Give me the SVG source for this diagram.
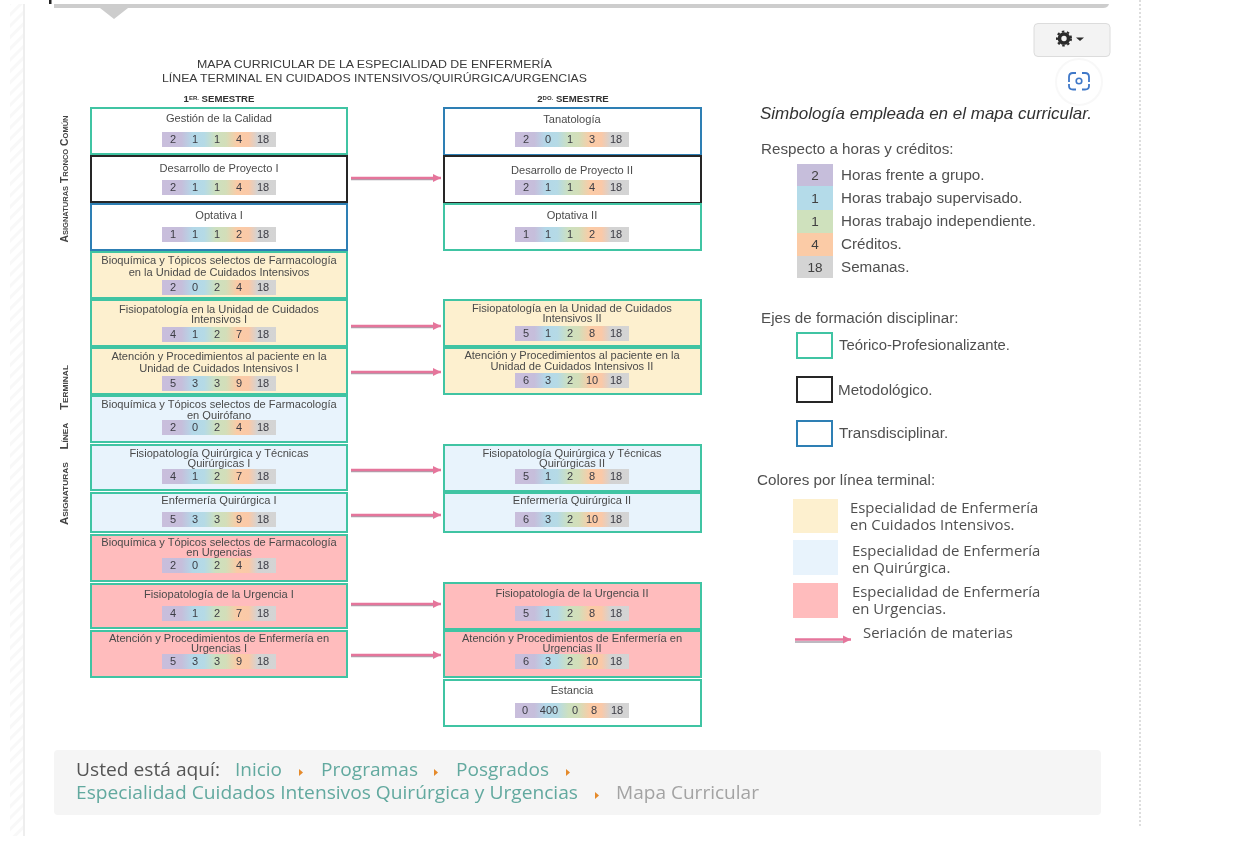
<svg xmlns="http://www.w3.org/2000/svg" width="1236" height="844" viewBox="0 0 1236 844">
<style>
text{font-family:"Liberation Sans",Arial,sans-serif;fill:#4a4a4a}
.t{font-size:11.1px;text-anchor:middle}
.n{font-size:11px;text-anchor:middle;fill:#3c3c44}
.box{stroke-width:2;fill:#fff}
.te{stroke:#3fc4a3}.me{stroke:#262626}.tr{stroke:#2f7fb4}
.ci{fill:#fdf0cf}.qu{fill:#e8f3fc}.ur{fill:#ffbcbd}
.lg{font-size:15.200px;fill:#505050}
.ln{font-size:13.500px;fill:#404040;text-anchor:middle}
.lc{font-size:14.900px;font-family:"Open Sans",sans-serif;fill:#505050}
.bc{font-size:18px;font-family:"Open Sans",sans-serif;fill:#62a99f}
.sm{font-size:9.600px;font-weight:bold;fill:#333;text-anchor:middle}
.v{font-size:11px;font-weight:bold;font-variant:small-caps;fill:#444;text-anchor:middle}
.cr{fill:#e58a2c}
.a1{stroke:#a9a3ad;stroke-width:1.4;fill:none}
.a2{stroke:#e5749b;stroke-width:2.4;fill:none}
</style>
<defs>
<linearGradient id="strip"><stop offset="0" stop-color="#c9bedc"/><stop offset=".17" stop-color="#c6bedb"/><stop offset=".27" stop-color="#b3d8e8"/><stop offset=".37" stop-color="#b5dae6"/><stop offset=".47" stop-color="#cde0bf"/><stop offset=".56" stop-color="#d3deb9"/><stop offset=".66" stop-color="#fbcba6"/><stop offset=".76" stop-color="#fac9a8"/><stop offset=".84" stop-color="#d3d3d3"/><stop offset="1" stop-color="#d4d4d4"/></linearGradient>
<marker id="ah" markerUnits="userSpaceOnUse" markerWidth="9" markerHeight="9" refX="8" refY="4.5" orient="auto"><path d="M0 .5L8 4.5L0 8.500z" fill="#e5749b"/></marker>
<pattern id="hatch" width="8" height="8" patternUnits="userSpaceOnUse" patternTransform="rotate(-45)"><rect width="8" height="8" fill="#fff"/><rect width="8" height="3" fill="#f8f8f8"/></pattern>
<filter id="soft" x="-2%" y="-2%" width="104%" height="104%"><feGaussianBlur stdDeviation="0.3"/></filter>
</defs>
<rect width="1236" height="844" fill="#fff"/>
<g id="chrome">
<rect x="10" y="4" width="13" height="832" fill="url(#hatch)"/>
<rect x="23" y="4" width="2" height="832" fill="#eeeeee"/>
<rect x="49" y="0" width="2.500" height="4" fill="#222"/>
<path d="M54 4H1109Q1108 8 1103 8H128L114 19L100 8H54z" fill="#cdcdcd"/>
<line x1="1140" y1="0" x2="1140" y2="826" stroke="#bbb" stroke-width="1" stroke-dasharray="2 2"/>
<rect x="1034" y="23.500" width="76" height="33" rx="4" fill="#f3f3f3" stroke="#dcdcdc"/>
<circle cx="1064" cy="38.500" r="4.500" fill="none" stroke="#2b2b2b" stroke-width="3.600"/>
<circle cx="1064" cy="38.500" r="7" fill="none" stroke="#2b2b2b" stroke-width="2" stroke-dasharray="2.500 2.600"/>
<path d="M1076 37.500h8l-4 3.500z" fill="#2b2b2b"/>
<circle cx="1079" cy="82" r="23" fill="#fff" stroke="#f8f8f8" stroke-width="2"/>
<path d="M1069 82v-5q0-4 4-4h3M1082 73h3q4 0 4 4v5M1089 84v2q0 3.500-4 3.500h-3M1076 89.500h-3q-4 0-4-3.500v-2" fill="none" stroke="#3f78c8" stroke-width="1.800"/>
<circle cx="1079" cy="81" r="2.800" fill="none" stroke="#3f78c8" stroke-width="1.600"/>
</g>
<g filter="url(#soft)">
<g id="titles">
<text x="374.500" y="68" font-size="11.200" text-anchor="middle" textLength="355" lengthAdjust="spacingAndGlyphs" style="fill:#3a3a3a">MAPA CURRICULAR DE LA ESPECIALIDAD DE ENFERMERÍA</text>
<text x="374.500" y="82" font-size="11.200" text-anchor="middle" textLength="425" lengthAdjust="spacingAndGlyphs" style="fill:#3a3a3a">LÍNEA TERMINAL EN CUIDADOS INTENSIVOS/QUIRÚRGICA/URGENCIAS</text>
<text class="sm" x="219" y="102">1<tspan font-size="6" dy="-2">ER.</tspan><tspan dy="2"> SEMESTRE</tspan></text>
<text class="sm" x="573" y="102">2<tspan font-size="6" dy="-2">DO.</tspan><tspan dy="2"> SEMESTRE</tspan></text>
<text class="v" transform="translate(68 179) rotate(-90)" textLength="127" lengthAdjust="spacingAndGlyphs">Asignaturas Tronco Común</text>
<text class="v" transform="translate(68 445) rotate(-90)" word-spacing="9" textLength="160" lengthAdjust="spacingAndGlyphs">Asignaturas Línea Terminal</text>
</g>
<g id="connectors">
<path class="a1" d="M351 179.500H434M351 327.500H434M351 373.500H434M351 471.500H434M351 516.500H434M351 605.500H434M351 656.500H434M795 642H843"/>
<path class="a2" marker-end="url(#ah)" d="M351 178H441"/>
<path class="a2" marker-end="url(#ah)" d="M351 326H441"/>
<path class="a2" marker-end="url(#ah)" d="M351 372H441"/>
<path class="a2" marker-end="url(#ah)" d="M351 470H441"/>
<path class="a2" marker-end="url(#ah)" d="M351 515H441"/>
<path class="a2" marker-end="url(#ah)" d="M351 604H441"/>
<path class="a2" marker-end="url(#ah)" d="M351 655H441"/>
<path class="a2" marker-end="url(#ah)" d="M795 639.500H851"/>
</g>
<g id="n-gestion"><rect class="box te" x="91" y="108" width="256" height="46"/><text class="t" x="219" y="122">Gestión de la Calidad</text><rect x="162" y="132" width="114" height="15" fill="url(#strip)"/><text class="n" x="173" y="143">2</text><text class="n" x="195" y="143">1</text><text class="n" x="217" y="143">1</text><text class="n" x="239" y="143">4</text><text class="n" x="263" y="143">18</text></g>
<g id="n-desarrollo1"><rect class="box me" x="91" y="156" width="256" height="46"/><text class="t" x="219" y="172">Desarrollo de Proyecto I</text><rect x="162" y="180" width="114" height="15" fill="url(#strip)"/><text class="n" x="173" y="191">2</text><text class="n" x="195" y="191">1</text><text class="n" x="217" y="191">1</text><text class="n" x="239" y="191">4</text><text class="n" x="263" y="191">18</text></g>
<g id="n-optativa1"><rect class="box tr" x="91" y="204" width="256" height="46"/><text class="t" x="219" y="219">Optativa I</text><rect x="162" y="227" width="114" height="15" fill="url(#strip)"/><text class="n" x="173" y="238">1</text><text class="n" x="195" y="238">1</text><text class="n" x="217" y="238">1</text><text class="n" x="239" y="238">2</text><text class="n" x="263" y="238">18</text></g>
<g id="n-bioq-ci"><rect class="box te ci" x="91" y="252" width="256" height="46"/><text class="t" x="219" y="264">Bioquímica y Tópicos selectos de Farmacología</text><text class="t" x="219" y="276">en la Unidad de Cuidados Intensivos</text><rect x="162" y="280" width="114" height="15" fill="url(#strip)"/><text class="n" x="173" y="291">2</text><text class="n" x="195" y="291">0</text><text class="n" x="217" y="291">2</text><text class="n" x="239" y="291">4</text><text class="n" x="263" y="291">18</text></g>
<g id="n-fisio-ci1"><rect class="box te ci" x="91" y="300" width="256" height="46"/><text class="t" x="219" y="313">Fisiopatología en la Unidad de Cuidados</text><text class="t" x="219" y="323">Intensivos I</text><rect x="162" y="327" width="114" height="15" fill="url(#strip)"/><text class="n" x="173" y="338">4</text><text class="n" x="195" y="338">1</text><text class="n" x="217" y="338">2</text><text class="n" x="239" y="338">7</text><text class="n" x="263" y="338">18</text></g>
<g id="n-aten-ci1"><rect class="box te ci" x="91" y="348" width="256" height="46"/><text class="t" x="219" y="360">Atención y Procedimientos al paciente en la</text><text class="t" x="219" y="372">Unidad de Cuidados Intensivos I</text><rect x="162" y="376" width="114" height="15" fill="url(#strip)"/><text class="n" x="173" y="387">5</text><text class="n" x="195" y="387">3</text><text class="n" x="217" y="387">3</text><text class="n" x="239" y="387">9</text><text class="n" x="263" y="387">18</text></g>
<g id="n-bioq-qu"><rect class="box te qu" x="91" y="396" width="256" height="46"/><text class="t" x="219" y="408">Bioquímica y Tópicos selectos de Farmacología</text><text class="t" x="219" y="419">en Quirófano</text><rect x="162" y="420" width="114" height="15" fill="url(#strip)"/><text class="n" x="173" y="431">2</text><text class="n" x="195" y="431">0</text><text class="n" x="217" y="431">2</text><text class="n" x="239" y="431">4</text><text class="n" x="263" y="431">18</text></g>
<g id="n-fisio-qu1"><rect class="box te qu" x="91" y="445" width="256" height="45"/><text class="t" x="219" y="457">Fisiopatología Quirúrgica y Técnicas</text><text class="t" x="219" y="467">Quirúrgicas I</text><rect x="162" y="469" width="114" height="15" fill="url(#strip)"/><text class="n" x="173" y="480">4</text><text class="n" x="195" y="480">1</text><text class="n" x="217" y="480">2</text><text class="n" x="239" y="480">7</text><text class="n" x="263" y="480">18</text></g>
<g id="n-enf-qu1"><rect class="box te qu" x="91" y="493" width="256" height="39"/><text class="t" x="219" y="504">Enfermería Quirúrgica I</text><rect x="162" y="512" width="114" height="15" fill="url(#strip)"/><text class="n" x="173" y="523">5</text><text class="n" x="195" y="523">3</text><text class="n" x="217" y="523">3</text><text class="n" x="239" y="523">9</text><text class="n" x="263" y="523">18</text></g>
<g id="n-bioq-ur"><rect class="box te ur" x="91" y="535" width="256" height="46"/><text class="t" x="219" y="546">Bioquímica y Tópicos selectos de Farmacología</text><text class="t" x="219" y="556">en Urgencias</text><rect x="162" y="558" width="114" height="15" fill="url(#strip)"/><text class="n" x="173" y="569">2</text><text class="n" x="195" y="569">0</text><text class="n" x="217" y="569">2</text><text class="n" x="239" y="569">4</text><text class="n" x="263" y="569">18</text></g>
<g id="n-fisio-ur1"><rect class="box te ur" x="91" y="584" width="256" height="44"/><text class="t" x="219" y="598">Fisiopatología de la Urgencia I</text><rect x="162" y="606" width="114" height="15" fill="url(#strip)"/><text class="n" x="173" y="617">4</text><text class="n" x="195" y="617">1</text><text class="n" x="217" y="617">2</text><text class="n" x="239" y="617">7</text><text class="n" x="263" y="617">18</text></g>
<g id="n-aten-ur1"><rect class="box te ur" x="91" y="631" width="256" height="46"/><text class="t" x="219" y="642">Atención y Procedimientos de Enfermería en</text><text class="t" x="219" y="652">Urgencias I</text><rect x="162" y="654" width="114" height="15" fill="url(#strip)"/><text class="n" x="173" y="665">5</text><text class="n" x="195" y="665">3</text><text class="n" x="217" y="665">3</text><text class="n" x="239" y="665">9</text><text class="n" x="263" y="665">18</text></g>
<g id="n-tanatologia"><rect class="box tr" x="444" y="108" width="257" height="47"/><text class="t" x="572" y="123">Tanatología</text><rect x="515" y="132" width="114" height="15" fill="url(#strip)"/><text class="n" x="526" y="143">2</text><text class="n" x="548" y="143">0</text><text class="n" x="570" y="143">1</text><text class="n" x="592" y="143">3</text><text class="n" x="616" y="143">18</text></g>
<g id="n-desarrollo2"><rect class="box me" x="444" y="156" width="257" height="47"/><text class="t" x="572" y="174">Desarrollo de Proyecto II</text><rect x="515" y="180" width="114" height="15" fill="url(#strip)"/><text class="n" x="526" y="191">2</text><text class="n" x="548" y="191">1</text><text class="n" x="570" y="191">1</text><text class="n" x="592" y="191">4</text><text class="n" x="616" y="191">18</text></g>
<g id="n-optativa2"><rect class="box te" x="444" y="204" width="257" height="46"/><text class="t" x="572" y="219">Optativa II</text><rect x="515" y="227" width="114" height="15" fill="url(#strip)"/><text class="n" x="526" y="238">1</text><text class="n" x="548" y="238">1</text><text class="n" x="570" y="238">1</text><text class="n" x="592" y="238">2</text><text class="n" x="616" y="238">18</text></g>
<g id="n-fisio-ci2"><rect class="box te ci" x="444" y="300" width="257" height="46"/><text class="t" x="572" y="312">Fisiopatología en la Unidad de Cuidados</text><text class="t" x="572" y="322">Intensivos II</text><rect x="515" y="326" width="114" height="15" fill="url(#strip)"/><text class="n" x="526" y="337">5</text><text class="n" x="548" y="337">1</text><text class="n" x="570" y="337">2</text><text class="n" x="592" y="337">8</text><text class="n" x="616" y="337">18</text></g>
<g id="n-aten-ci2"><rect class="box te ci" x="444" y="348" width="257" height="46"/><text class="t" x="572" y="359">Atención y Procedimientos al paciente en la</text><text class="t" x="572" y="370">Unidad de Cuidados Intensivos II</text><rect x="515" y="373" width="114" height="15" fill="url(#strip)"/><text class="n" x="526" y="384">6</text><text class="n" x="548" y="384">3</text><text class="n" x="570" y="384">2</text><text class="n" x="592" y="384">10</text><text class="n" x="616" y="384">18</text></g>
<g id="n-fisio-qu2"><rect class="box te qu" x="444" y="445" width="257" height="46"/><text class="t" x="572" y="457">Fisiopatología Quirúrgica y Técnicas</text><text class="t" x="572" y="467">Quirúrgicas II</text><rect x="515" y="469" width="114" height="15" fill="url(#strip)"/><text class="n" x="526" y="480">5</text><text class="n" x="548" y="480">1</text><text class="n" x="570" y="480">2</text><text class="n" x="592" y="480">8</text><text class="n" x="616" y="480">18</text></g>
<g id="n-enf-qu2"><rect class="box te qu" x="444" y="493" width="257" height="39"/><text class="t" x="572" y="504">Enfermería Quirúrgica II</text><rect x="515" y="512" width="114" height="15" fill="url(#strip)"/><text class="n" x="526" y="523">6</text><text class="n" x="548" y="523">3</text><text class="n" x="570" y="523">2</text><text class="n" x="592" y="523">10</text><text class="n" x="616" y="523">18</text></g>
<g id="n-fisio-ur2"><rect class="box te ur" x="444" y="583" width="257" height="46"/><text class="t" x="572" y="597">Fisiopatología de la Urgencia II</text><rect x="515" y="606" width="114" height="15" fill="url(#strip)"/><text class="n" x="526" y="617">5</text><text class="n" x="548" y="617">1</text><text class="n" x="570" y="617">2</text><text class="n" x="592" y="617">8</text><text class="n" x="616" y="617">18</text></g>
<g id="n-aten-ur2"><rect class="box te ur" x="444" y="631" width="257" height="46"/><text class="t" x="572" y="642">Atención y Procedimientos de Enfermería en</text><text class="t" x="572" y="652">Urgencias II</text><rect x="515" y="654" width="114" height="15" fill="url(#strip)"/><text class="n" x="526" y="665">6</text><text class="n" x="548" y="665">3</text><text class="n" x="570" y="665">2</text><text class="n" x="592" y="665">10</text><text class="n" x="616" y="665">18</text></g>
<g id="n-estancia"><rect class="box te" x="444" y="680" width="257" height="46"/><text class="t" x="572" y="694">Estancia</text><rect x="515" y="703" width="114" height="15" fill="url(#strip)"/><text class="n" x="525" y="714">0</text><text class="n" x="549" y="714">400</text><text class="n" x="575" y="714">0</text><text class="n" x="594" y="714">8</text><text class="n" x="617" y="714">18</text></g>
<g id="legend">
<text x="760" y="119" font-size="17" font-style="italic" style="fill:#333">Simbología empleada en el mapa curricular.</text>
<text class="lg" x="761" y="154">Respecto a horas y créditos:</text>
<rect x="797" y="164" width="36" height="22" fill="#c6bedb"/><rect x="797" y="186" width="36" height="24" fill="#b4dbe9"/><rect x="797" y="210" width="36" height="23" fill="#cfe1bd"/><rect x="797" y="233" width="36" height="23" fill="#fbcba6"/><rect x="797" y="256" width="36" height="22" fill="#d4d4d4"/>
<text class="ln" x="815" y="180">2</text><text class="ln" x="815" y="203">1</text><text class="ln" x="815" y="226">1</text><text class="ln" x="815" y="249">4</text><text class="ln" x="815" y="272">18</text>
<text class="lg" x="841" y="180">Horas frente a grupo.</text><text class="lg" x="841" y="203">Horas trabajo supervisado.</text><text class="lg" x="841" y="226">Horas trabajo independiente.</text><text class="lg" x="841" y="249">Créditos.</text><text class="lg" x="841" y="272">Semanas.</text>
<text class="lg" x="761" y="323">Ejes de formación disciplinar:</text>
<rect class="box te" x="797" y="333" width="35" height="25"/><text class="lg" x="839" y="350" textLength="171" lengthAdjust="spacingAndGlyphs">Teórico-Profesionalizante.</text>
<rect class="box me" x="797" y="377" width="35" height="25"/><text class="lg" x="838" y="395">Metodológico.</text>
<rect class="box tr" x="797" y="421" width="35" height="25"/><text class="lg" x="839" y="438">Transdisciplinar.</text>
<text class="lg" x="757" y="485">Colores por línea terminal:</text>
<rect class="ci" x="793" y="499" width="45" height="34"/><text class="lc" x="850" y="513">Especialidad de Enfermería</text><text class="lc" x="850" y="530">en Cuidados Intensivos.</text>
<rect class="qu" x="793" y="540" width="45" height="35"/><text class="lc" x="852" y="556">Especialidad de Enfermería</text><text class="lc" x="852" y="573">en Quirúrgica.</text>
<rect class="ur" x="793" y="583" width="45" height="35"/><text class="lc" x="852" y="597">Especialidad de Enfermería</text><text class="lc" x="852" y="614">en Urgencias.</text>
<text class="lc" x="863" y="638">Seriación de materias</text>
</g>
<g id="breadcrumb">
<rect x="54" y="750" width="1047" height="65" rx="4" fill="#f5f5f5"/>
<text class="bc" x="76" y="776" textLength="144" lengthAdjust="spacingAndGlyphs" style="fill:#555">Usted está aquí:</text>
<text class="bc" x="235" y="776" textLength="47" lengthAdjust="spacingAndGlyphs">Inicio</text><path class="cr" d="M299 769l4 3.500-4 3.500z"/>
<text class="bc" x="321" y="776" textLength="97" lengthAdjust="spacingAndGlyphs">Programas</text><path class="cr" d="M434 769l4 3.500-4 3.500z"/>
<text class="bc" x="456" y="776" textLength="93" lengthAdjust="spacingAndGlyphs">Posgrados</text><path class="cr" d="M566 769l4 3.500-4 3.500z"/>
<text class="bc" x="76" y="799" textLength="502" lengthAdjust="spacingAndGlyphs">Especialidad Cuidados Intensivos Quirúrgica y Urgencias</text><path class="cr" d="M595 792l4 3.500-4 3.500z"/>
<text class="bc" x="616" y="799" textLength="143" lengthAdjust="spacingAndGlyphs" style="fill:#a3a3a3">Mapa Curricular</text>
</g>
</g>
</svg>
